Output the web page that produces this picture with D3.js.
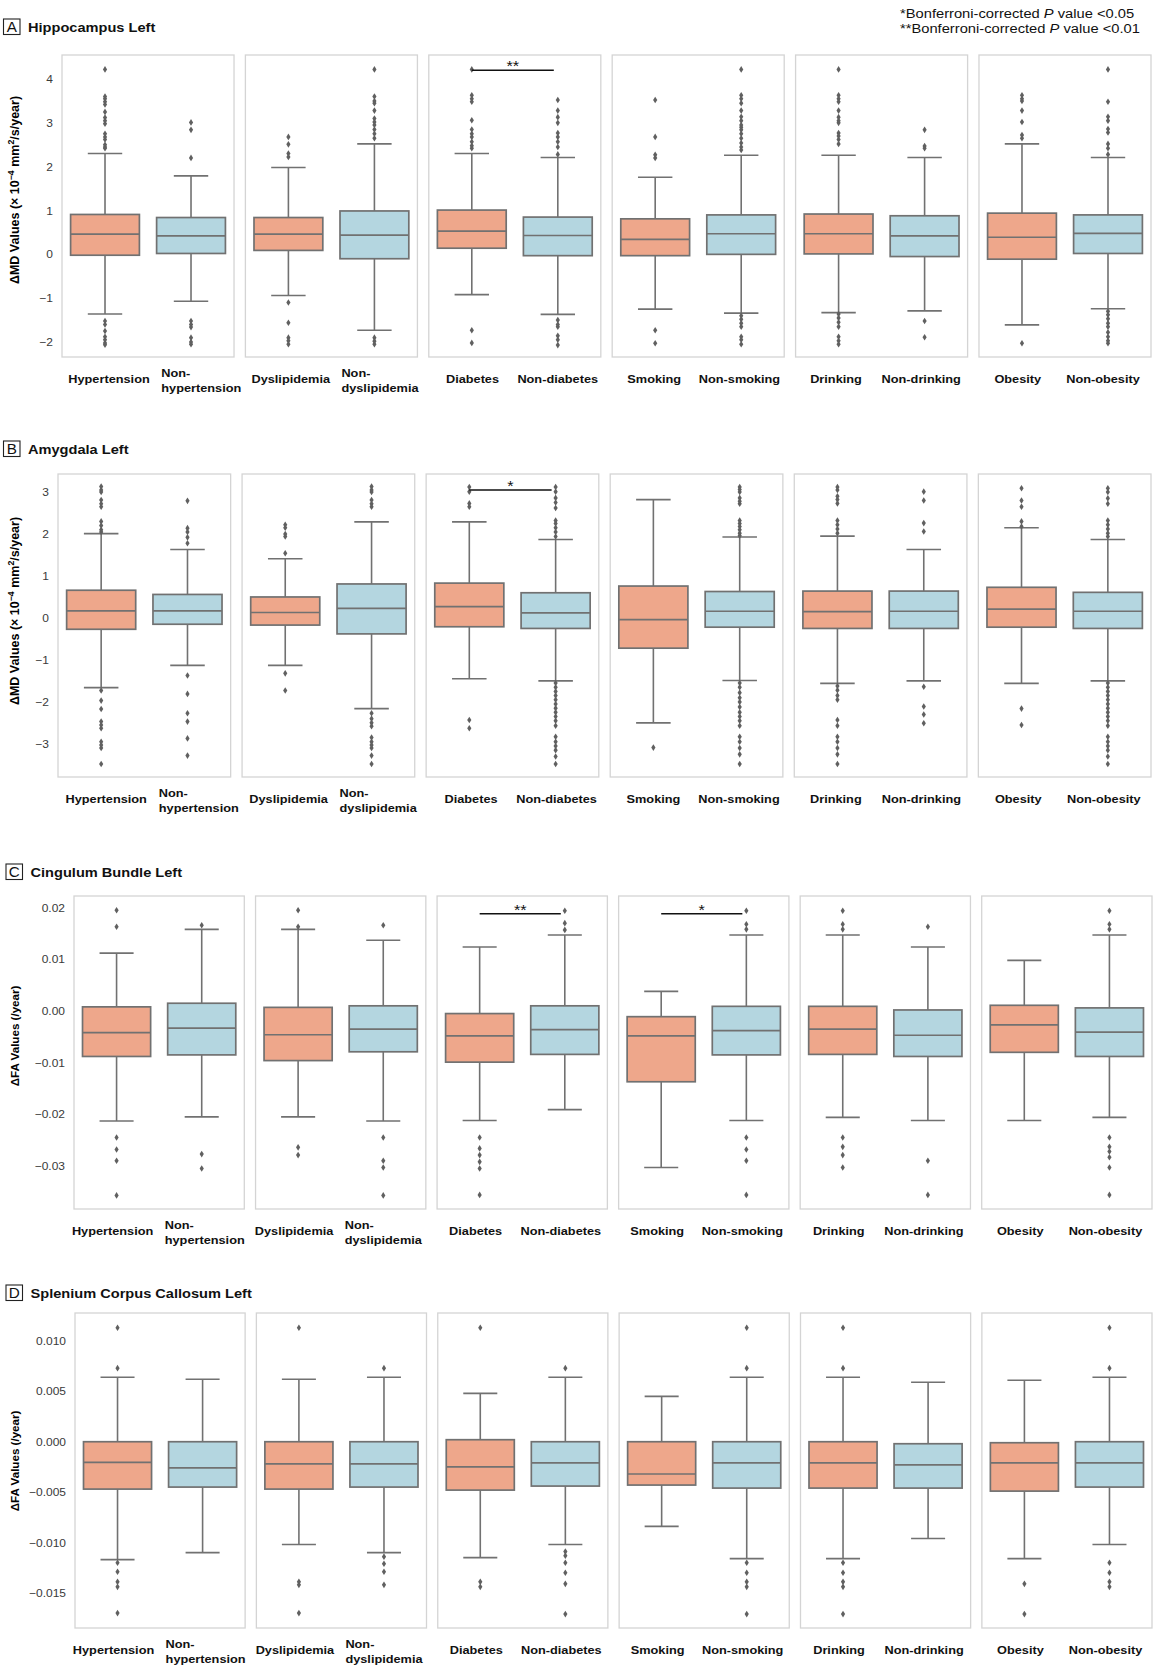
<!DOCTYPE html>
<html><head><meta charset="utf-8">
<script src="https://cdn.jsdelivr.net/npm/d3@7"></script>
<style>
body{margin:0;background:#fff}
svg{display:block}
text{font-family:"Liberation Sans",Arial,Helvetica,sans-serif}
</style>
</head><body>
<svg id="c" width="1158" height="1672"></svg>
<script>
// ---------- DATA ----------
const posLabels = ["Hypertension","Dyslipidemia","Diabetes","Smoking","Drinking","Obesity"];
const negLabels = ["Non-\nhypertension","Non-\ndyslipidemia","Non-diabetes","Non-smoking","Non-drinking","Non-obesity"];

// stats per box: [lower whisker, Q1, median, Q3, upper whisker]; order: pos0,neg0,pos1,neg1,...
const hippoStats = [
  [-1.36,-0.02,0.46,0.91,2.30],[-1.07,0.02,0.42,0.84,1.79],
  [-0.94,0.09,0.46,0.84,1.98],[-1.73,-0.10,0.44,0.99,2.52],
  [-0.92,0.14,0.53,1.01,2.30],[-1.37,-0.03,0.43,0.85,2.21],
  [-1.25,-0.03,0.34,0.81,1.76],[-1.34,0.00,0.47,0.90,2.26],
  [-1.33,0.01,0.47,0.92,2.26],[-1.29,-0.05,0.42,0.88,2.21],
  [-1.61,-0.11,0.39,0.94,2.52],[-1.24,0.02,0.48,0.90,2.21]
];
const hippoOutliers = [
  [4.22,3.6,3.55,3.48,3.42,3.25,3.12,3.05,2.98,2.75,2.68,2.62,2.5,2.45,2.42,-1.52,-1.6,-1.75,-1.88,-1.95,-2.02,-2.06],
  [3.01,2.84,2.2,-1.52,-1.6,-1.66,-1.9,-2.0,-2.05],
  [2.68,2.51,2.3,2.22,-1.1,-1.56,-1.9,-1.97,-2.05],
  [4.22,3.6,3.5,3.45,3.28,3.1,3.02,2.95,2.85,2.75,2.65,-1.9,-1.98,-2.05],
  [4.22,3.63,3.55,3.48,3.06,2.85,2.75,2.68,2.57,2.48,2.42,-1.73,-2.02],
  [3.52,3.28,3.13,3.0,2.77,2.68,2.57,2.45,2.28,-1.5,-1.6,-1.65,-1.86,-1.95,-2.07],
  [3.52,2.68,2.27,2.2,-1.73,-2.03],
  [4.22,3.63,3.55,3.45,3.28,3.14,3.05,2.95,2.9,2.84,2.75,2.65,2.54,2.45,2.38,-1.4,-1.48,-1.57,-1.65,-1.88,-1.95,-2.05],
  [4.22,3.63,3.55,3.48,3.28,3.13,3.05,3.0,2.77,2.7,2.62,2.52,-1.36,-1.45,-1.55,-1.65,-1.88,-1.97,-2.05],
  [2.84,2.47,2.42,-1.52,-1.89],
  [3.63,3.55,3.5,3.28,3.02,2.72,2.65,-2.03],
  [4.22,3.48,3.14,3.05,2.86,2.78,2.52,2.42,2.28,-1.3,-1.38,-1.47,-1.57,-1.65,-1.78,-1.88,-1.97,-2.03]
];
const hippoTicks = [-2,-1,0,1,2,3,4];
const hippoSig = [{panel:2, mark:"**", value:4.2}];

const amygStats = [
  [-1.66,-0.27,0.17,0.66,2.01],[-1.13,-0.15,0.17,0.56,1.63],
  [-1.13,-0.17,0.13,0.50,1.41],[-2.16,-0.38,0.23,0.81,2.29],
  [-1.45,-0.21,0.27,0.83,2.29],[-1.50,-0.25,0.12,0.60,1.87],
  [-2.50,-0.72,-0.04,0.76,2.82],[-1.49,-0.22,0.16,0.63,1.93],
  [-1.56,-0.25,0.15,0.64,1.95],[-1.50,-0.25,0.16,0.64,1.63],
  [-1.56,-0.22,0.21,0.73,2.15],[-1.50,-0.25,0.16,0.61,1.87]
];
const amygOutliers = [
  [3.13,3.05,3.0,2.81,2.72,2.65,2.3,2.2,2.1,2.05,-1.73,-1.97,-2.17,-2.47,-2.55,-2.63,-2.95,-3.03,-3.1,-3.48],
  [2.79,2.14,2.05,1.92,1.78,-1.37,-1.81,-2.27,-2.47,-2.87,-3.28],
  [2.22,2.15,2.0,1.94,1.54,-1.32,-1.73],
  [3.13,3.05,3.0,2.81,2.72,2.65,-2.27,-2.4,-2.5,-2.58,-2.85,-2.95,-3.03,-3.1,-3.28,-3.48],
  [3.12,3.01,2.73,2.65,-2.43,-2.63],
  [3.12,3.01,2.86,2.75,2.62,2.32,2.25,2.15,2.05,1.94,-1.55,-1.65,-1.75,-1.85,-1.95,-2.05,-2.15,-2.25,-2.35,-2.45,-2.57,-2.83,-2.95,-3.05,-3.15,-3.3,-3.48],
  [-3.09],
  [3.12,3.06,3.0,2.86,2.78,2.72,2.32,2.25,2.18,2.1,2.02,1.96,-1.55,-1.65,-1.78,-1.9,-2.0,-2.12,-2.25,-2.35,-2.45,-2.57,-2.83,-2.95,-3.1,-3.25,-3.48],
  [3.12,3.05,2.9,2.82,2.73,2.32,2.22,2.12,2.02,-1.62,-1.72,-1.85,-1.95,-2.43,-2.57,-2.83,-2.95,-3.1,-3.25,-3.48],
  [3.01,2.8,2.26,2.06,-1.64,-2.11,-2.3,-2.51],
  [3.09,2.8,2.65,2.3,2.18,-2.16,-2.55],
  [3.09,3.0,2.85,2.72,2.32,2.22,2.12,2.02,1.94,-1.55,-1.65,-1.75,-1.85,-1.95,-2.05,-2.15,-2.25,-2.35,-2.45,-2.57,-2.83,-2.95,-3.05,-3.15,-3.3,-3.48]
];
const amygTicks = [-3,-2,-1,0,1,2,3];
const amygSig = [{panel:2, mark:"*", value:3.05}];

const cingStats = [
  [-0.0213,-0.0088,-0.0042,0.0008,0.0112],[-0.0205,-0.0085,-0.0033,0.0015,0.0158],
  [-0.0205,-0.0096,-0.0046,0.0007,0.0158],[-0.0213,-0.0079,-0.0035,0.0010,0.0137],
  [-0.0212,-0.0099,-0.0048,-0.0005,0.0124],[-0.0191,-0.0084,-0.0036,0.0010,0.0147],
  [-0.0303,-0.0137,-0.0048,-0.0011,0.0038],[-0.0212,-0.0085,-0.0038,0.0009,0.0147],
  [-0.0206,-0.0084,-0.0035,0.0009,0.0147],[-0.0212,-0.0088,-0.0047,0.0002,0.0124],
  [-0.0212,-0.0080,-0.0027,0.0011,0.0098],[-0.0206,-0.0088,-0.0041,0.0006,0.0147]
];
const cingOutliers = [
  [0.0195,0.0163,-0.0245,-0.0268,-0.029,-0.0357],
  [0.0166,-0.0277,-0.0305],
  [0.0195,0.0163,-0.0264,-0.0279],
  [0.0166,-0.0245,-0.029,-0.0303,-0.0357],
  [-0.0245,-0.0266,-0.0279,-0.0292,-0.0305,-0.0356],
  [0.0194,0.017,0.0157],
  [],
  [0.0194,0.0168,0.0158,-0.0245,-0.0268,-0.029,-0.0356],
  [0.0194,0.0168,0.0158,-0.0245,-0.0263,-0.0279,-0.0303],
  [0.0163,-0.029,-0.0356],
  [],
  [0.0194,0.0168,0.0158,-0.0245,-0.0263,-0.0272,-0.0283,-0.0303,-0.0356]
];
const cingTicks = [-0.03,-0.02,-0.01,0.00,0.01,0.02];
const cingSig = [{panel:2, mark:"**", value:0.0188},{panel:3, mark:"*", value:0.0188}];

const spleStats = [
  [-0.0117,-0.0047,-0.00205,0.0,0.0064],[-0.0110,-0.0045,-0.0026,0.0,0.0062],
  [-0.0102,-0.0047,-0.0022,0.0,0.0062],[-0.0110,-0.0045,-0.0022,0.0,0.0064],
  [-0.0115,-0.0048,-0.0025,0.0002,0.0048],[-0.0102,-0.0044,-0.0021,0.0,0.0064],
  [-0.0084,-0.0043,-0.0032,0.0,0.0045],[-0.0116,-0.0046,-0.0021,0.0,0.0064],
  [-0.0116,-0.0046,-0.0021,0.0,0.0064],[-0.0096,-0.0046,-0.0023,-0.0002,0.0059],
  [-0.0116,-0.0049,-0.0021,-0.0001,0.0061],[-0.0102,-0.0045,-0.0021,0.0,0.0064]
];
const spleOutliers = [
  [0.0113,0.0073,-0.012,-0.0129,-0.0139,-0.0144,-0.017],
  [],
  [0.0113,-0.0139,-0.0142,-0.017],
  [0.0073,-0.0114,-0.0121,-0.0129,-0.0142],
  [0.0113,-0.0139,-0.0144],
  [0.0073,-0.0109,-0.0113,-0.012,-0.013,-0.0141,-0.0171],
  [],
  [0.0113,0.0073,-0.012,-0.013,-0.0139,-0.0144,-0.0171],
  [0.0113,0.0073,-0.012,-0.013,-0.0139,-0.0144,-0.0171],
  [],
  [-0.0141,-0.0171],
  [0.0113,0.0073,-0.012,-0.013,-0.0139,-0.0144]
];
const spleTicks = [-0.015,-0.010,-0.005,0.000,0.005,0.010];
const spleSig = [];

const footnotes = [["*Bonferroni-corrected ","P"," value <0.05"],["**Bonferroni-corrected ","P"," value <0.01"]];

// ---------- LAYOUT / STYLE ----------
const SX = 1.09; // horizontal stretch of text glyphs in the reference
const COL_POS = "#EEA78B", COL_NEG = "#B4D6E0", LINE = "#717171", FRAME = "#d4d4d4";
const mdLabel = [["ΔMD Values (× 10",0],["−4",-1],[" mm",1],["2",-1],["/s/year)",1]];
const faLabel = [["ΔFA Values (/year)",0]];

const rows = [
  {letter:"A", title:"Hippocampus Left", label:mdLabel, stats:hippoStats, outliers:hippoOutliers, ticks:hippoTicks, sig:hippoSig,
   fmt:d3.format("d"), L:{top:55,bottom:357,left:62,right:1151,domain:[-2.342,4.548],titleY:27,letterX:3,ylabelY:190,ylabelSize:12.5,labA:3,labB:-0.009}},
  {letter:"B", title:"Amygdala Left", label:mdLabel, stats:amygStats, outliers:amygOutliers, ticks:amygTicks, sig:amygSig,
   fmt:d3.format("d"), L:{top:474,bottom:777,left:58,right:1151,domain:[-3.79,3.43],titleY:449,letterX:3,ylabelY:611,ylabelSize:12.5,labA:4,labB:-0.009}},
  {letter:"C", title:"Cingulum Bundle Left", label:faLabel, stats:cingStats, outliers:cingOutliers, ticks:cingTicks, sig:cingSig,
   fmt:d3.format(".2f"), L:{top:896,bottom:1209,left:74,right:1152,domain:[-0.03833,0.02226],titleY:872,letterX:5.5,ylabelY:1036,ylabelSize:11.6,labA:-5,labB:0}},
  {letter:"D", title:"Splenium Corpus Callosum Left", label:faLabel, stats:spleStats, outliers:spleOutliers, ticks:spleTicks, sig:spleSig,
   fmt:d3.format(".3f"), L:{top:1313,bottom:1628,left:75,right:1152,domain:[-0.01848,0.01277],titleY:1293,letterX:5.5,ylabelY:1461,ylabelSize:11.6,labA:-5,labB:0}}
];

const svg = d3.select("#c");
svg.append("rect").attr("width",1158).attr("height",1672).attr("fill","#fff");

function place(sel,x,y){ return sel.attr("transform",`translate(${x},${y}) scale(${SX},1)`); }

// footnote
footnotes.forEach((parts,i)=>{
  const t = place(svg.append("text"),900,18+i*15).attr("font-size",13.5).attr("fill","#111");
  parts.forEach((p,k)=>t.append("tspan").text(p).attr("font-style",k===1?"italic":"normal"));
});

rows.forEach(row=>{
  const L = row.L;
  const g = svg.append("g");
  // heading
  g.append("rect").attr("x",L.letterX+0.5).attr("y",L.titleY-8).attr("width",16.5).attr("height",15.5)
    .attr("fill","none").attr("stroke","#222").attr("stroke-width",1.1);
  place(g.append("text"),L.letterX+8.75,L.titleY+5).attr("text-anchor","middle").attr("font-size",14).attr("fill","#111").text(row.letter);
  place(g.append("text"),L.letterX+25,L.titleY+5).attr("font-size",13.4).attr("font-weight","bold").attr("fill","#111").text(row.title);

  const outer = d3.scaleBand().domain(d3.range(6)).range([L.left,L.right]).paddingInner(0.062).paddingOuter(0);
  const inner = d3.scaleBand().domain([0,1]).range([0,outer.bandwidth()]);
  const y = d3.scaleLinear().domain(L.domain).range([L.bottom,L.top]);
  const bw = inner.bandwidth()*0.8;
  const labShift = cx => L.labA + L.labB*(cx-105);

  // y axis
  const ax = g.append("g").attr("transform",`translate(${outer(0)},0)`)
    .call(d3.axisLeft(y).tickValues(row.ticks).tickSize(0).tickPadding(9).tickFormat(v=>row.fmt(v).replace("-","−")));
  ax.select(".domain").remove();
  ax.selectAll("text").attr("font-size",11).attr("fill","#3a3a3a")
    .attr("font-family",'"Liberation Sans",Arial,sans-serif')
    .attr("transform",`scale(${SX},1)`).attr("x",-9/SX);

  // y label
  const fs = L.ylabelSize;
  const yl = g.append("text").attr("transform",`translate(19,${L.ylabelY}) rotate(-90)`)
    .attr("text-anchor","middle").attr("font-size",fs).attr("font-weight","bold").attr("fill","#000");
  row.label.forEach(([s,shift])=>{
    yl.append("tspan").text(s).attr("dy", shift<0?-4.8:(shift>0?4.8:0)).attr("font-size",shift<0?fs*0.7:fs);
  });

  for(let i=0;i<6;i++){
    const px = outer(i);
    g.append("rect").attr("x",px).attr("y",L.top).attr("width",outer.bandwidth()).attr("height",L.bottom-L.top)
      .attr("fill","none").attr("stroke",FRAME).attr("stroke-width",1.3);
    for(let j=0;j<2;j++){
      const k = 2*i+j;
      const [lw,q1,md,q3,uw] = row.stats[k];
      const cx = px + inner(j) + inner.bandwidth()/2;
      const bg = g.append("g");
      bg.append("line").attr("x1",cx).attr("x2",cx).attr("y1",y(q1)).attr("y2",y(lw)).attr("stroke",LINE).attr("stroke-width",1.6);
      bg.append("line").attr("x1",cx).attr("x2",cx).attr("y1",y(q3)).attr("y2",y(uw)).attr("stroke",LINE).attr("stroke-width",1.6);
      [lw,uw].forEach(v=>bg.append("line").attr("x1",cx-bw/4).attr("x2",cx+bw/4).attr("y1",y(v)).attr("y2",y(v)).attr("stroke",LINE).attr("stroke-width",1.6));
      bg.append("rect").attr("x",cx-bw/2).attr("y",y(q3)).attr("width",bw).attr("height",y(q1)-y(q3))
        .attr("fill",j===0?COL_POS:COL_NEG).attr("stroke",LINE).attr("stroke-width",1.7);
      bg.append("line").attr("x1",cx-bw/2).attr("x2",cx+bw/2).attr("y1",y(md)).attr("y2",y(md)).attr("stroke",LINE).attr("stroke-width",1.7);
      bg.selectAll("path.fl").data(row.outliers[k]).join("path").attr("class","fl")
        .attr("d","M0,-3.3L2.1,0L0,3.3L-2.1,0Z")
        .attr("transform",v=>`translate(${cx},${y(v)})`).attr("fill","#606060");

      // x label
      const lab = j===0?posLabels[i]:negLabels[i];
      const ly = L.bottom+22;
      const sh = labShift(cx);
      if(lab.includes("\n")){
        const lines = lab.split("\n");
        const t = place(g.append("text"),cx+5+sh+(i===0?3:0),ly).attr("font-size",11.7).attr("font-weight","bold").attr("fill","#111");
        const ts = lines.map((s,m)=>t.append("tspan").text(s).attr("dy", m===0?"-0.2em":"1.28em"));
        const w = d3.max(ts.map(s=>s.node().getComputedTextLength()));
        ts.forEach(s=>s.attr("x",-w/2));
      } else {
        place(g.append("text"),cx+1+sh,ly+4).attr("text-anchor","middle").attr("font-size",11.7).attr("font-weight","bold").attr("fill","#111").text(lab);
      }
    }
  }

  // significance bars
  row.sig.forEach(s=>{
    const px = outer(s.panel);
    const c0 = px + inner(0) + inner.bandwidth()/2;
    const c1 = px + inner(1) + inner.bandwidth()/2 - 4;
    const yy = y(s.value);
    g.append("line").attr("x1",c0).attr("x2",c1).attr("y1",yy).attr("y2",yy).attr("stroke","#111").attr("stroke-width",1.5);
    place(g.append("text"),(c0+c1)/2,yy+1).attr("text-anchor","middle").attr("font-size",15).attr("fill","#111").text(s.mark);
  });
});
</script>
</body></html>
